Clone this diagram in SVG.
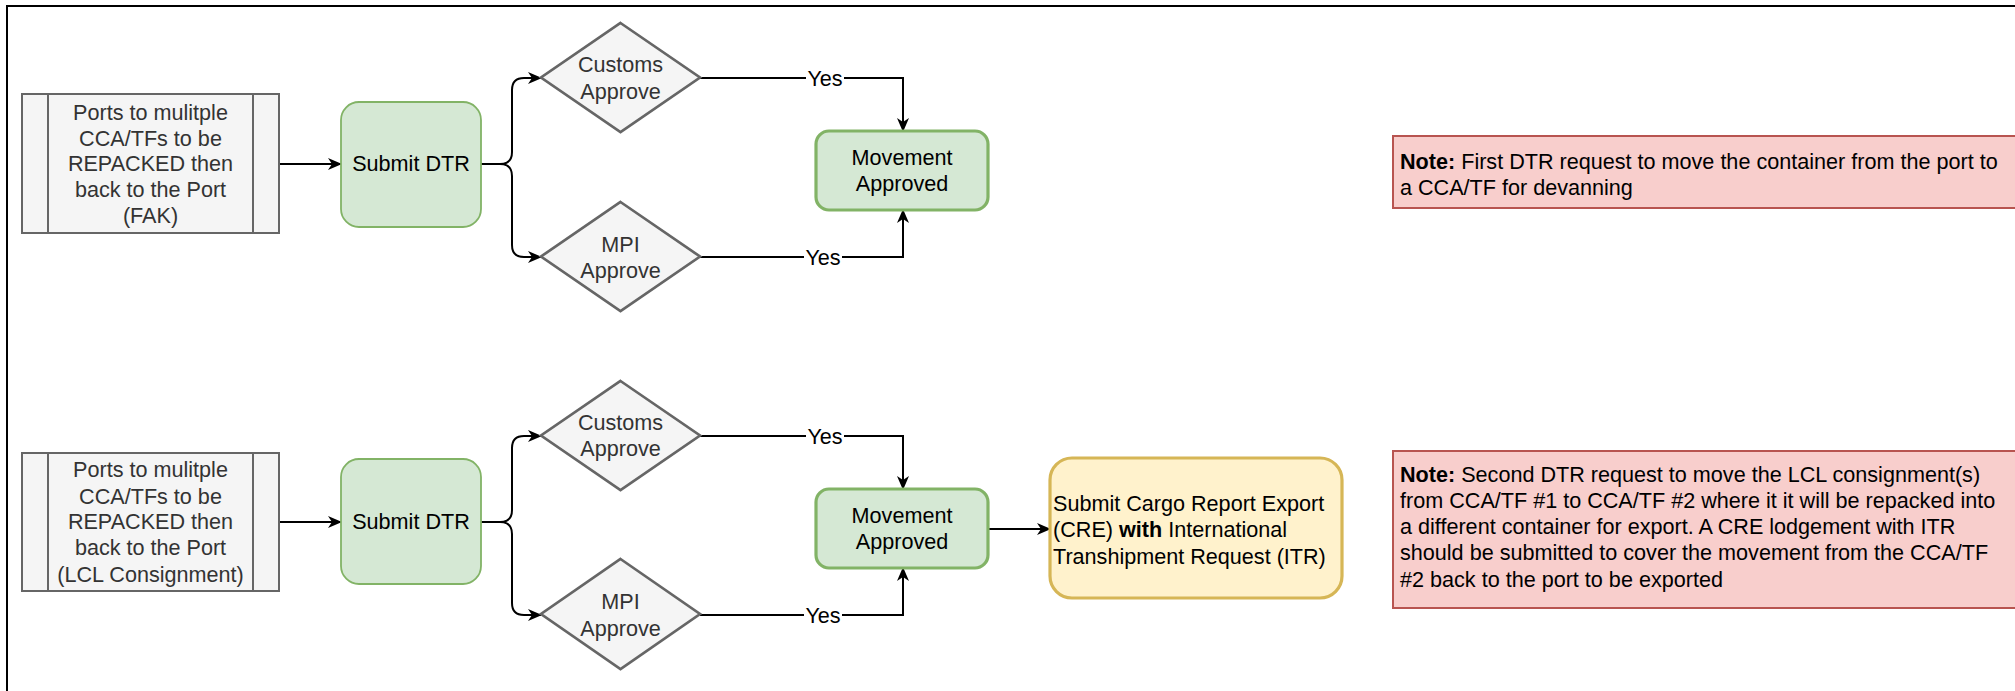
<svg xmlns="http://www.w3.org/2000/svg" width="2015" height="691" viewBox="0 0 2015 691">
<style>
text{font-family:"Liberation Sans",Arial,Helvetica,sans-serif;font-size:21.6px}
.gray{fill:#f5f5f5;stroke:#666666;stroke-width:2}
.dia{fill:#f5f5f5;stroke:#666666;stroke-width:2.7}
.gt{fill:#333333;text-anchor:middle}
.green{fill:#d5e8d4;stroke:#82b366;stroke-width:1.8}
.greenB{fill:#d5e8d4;stroke:#82b366;stroke-width:3.2}
.bt{fill:#000000;text-anchor:middle}
.yellow{fill:#fff2cc;stroke:#d6b656;stroke-width:3.2}
.note{fill:#f8cecc;stroke:#b85450;stroke-width:2}
.lt{fill:#000000}
.edge{fill:none;stroke:#000000;stroke-width:2;marker-end:url(#arr)}
.lbl{fill:#000000;text-anchor:middle}
</style>
<defs>
<marker id="arr" viewBox="0 0 14 12" refX="13" refY="6" markerWidth="14" markerHeight="12" markerUnits="userSpaceOnUse" orient="auto">
<path d="M0,0 L14,6 L0,12 L4,6 Z" fill="#000000"/>
</marker>
</defs>
<rect x="0" y="0" width="2015" height="691" fill="#ffffff"/>
<rect x="7" y="6" width="2040" height="720" fill="none" stroke="#000000" stroke-width="2"/>

<g id="connectors">
<path class="edge" d="M279,164 H341"/>
<path class="edge" d="M481,164 H500 Q512,164 512,152 V90 Q512,78 524,78 H541"/>
<path class="edge" d="M481,164 H500 Q512,164 512,176 V245 Q512,257 524,257 H541"/>
<path class="edge" d="M700,78 H903 V131"/>
<path class="edge" d="M700,257 H903 V210"/>
<path class="edge" d="M279,522 H341"/>
<path class="edge" d="M481,522 H500 Q512,522 512,510 V448 Q512,436 524,436 H541"/>
<path class="edge" d="M481,522 H500 Q512,522 512,534 V603 Q512,615 524,615 H541"/>
<path class="edge" d="M700,436 H903 V489"/>
<path class="edge" d="M700,615 H903 V568"/>
<path class="edge" d="M988,529 H1050"/>
<rect x="806" y="66" width="38" height="24" fill="#ffffff"/>
<text class="lbl" x="825" y="86">Yes</text>
<rect x="804" y="245" width="38" height="24" fill="#ffffff"/>
<text class="lbl" x="823" y="265">Yes</text>
<rect x="806" y="424" width="38" height="24" fill="#ffffff"/>
<text class="lbl" x="825" y="444">Yes</text>
<rect x="804" y="603" width="38" height="24" fill="#ffffff"/>
<text class="lbl" x="823" y="623">Yes</text>
</g>

<g id="process1">
<rect class="gray" x="22" y="94" width="257" height="139"/>
<line x1="48" y1="94" x2="48" y2="233" stroke="#666666" stroke-width="2"/>
<line x1="253" y1="94" x2="253" y2="233" stroke="#666666" stroke-width="2"/>
<text class="gt"><tspan x="150.5" y="120">Ports to mulitple</tspan><tspan x="150.5" y="146">CCA/TFs to be</tspan><tspan x="150.5" y="171">REPACKED then</tspan><tspan x="150.5" y="197">back to the Port</tspan><tspan x="150.5" y="223">(FAK)</tspan></text>
</g>
<g id="submit1">
<rect class="green" x="341" y="102" width="140" height="125" rx="18" ry="18"/>
<text class="bt" x="411" y="171">Submit DTR</text>
</g>
<g id="customs1">
<polygon class="dia" points="620.5,23 700,77.5 620.5,132 541,77.5"/>
<text class="gt"><tspan x="620.5" y="72">Customs</tspan><tspan x="620.5" y="99">Approve</tspan></text>
</g>
<g id="mpi1">
<polygon class="dia" points="620.5,202 700,256.5 620.5,311 541,256.5"/>
<text class="gt"><tspan x="620.5" y="252">MPI</tspan><tspan x="620.5" y="278">Approve</tspan></text>
</g>
<g id="movement1">
<rect class="greenB" x="816" y="131" width="172" height="79" rx="13" ry="13"/>
<text class="bt"><tspan x="902" y="165">Movement</tspan><tspan x="902" y="191">Approved</tspan></text>
</g>
<g id="note1">
<rect class="note" x="1393" y="136" width="640" height="72"/>
<text class="lt"><tspan x="1400" y="169"><tspan font-weight="bold">Note:</tspan> First DTR request to move the container from the port to</tspan><tspan x="1400" y="195">a CCA/TF for devanning</tspan></text>
</g>

<g id="process2">
<rect class="gray" x="22" y="453" width="257" height="138"/>
<line x1="48" y1="453" x2="48" y2="591" stroke="#666666" stroke-width="2"/>
<line x1="253" y1="453" x2="253" y2="591" stroke="#666666" stroke-width="2"/>
<text class="gt"><tspan x="150.5" y="477">Ports to mulitple</tspan><tspan x="150.5" y="504">CCA/TFs to be</tspan><tspan x="150.5" y="529">REPACKED then</tspan><tspan x="150.5" y="555">back to the Port</tspan><tspan x="150.5" y="582">(LCL Consignment)</tspan></text>
</g>
<g id="submit2">
<rect class="green" x="341" y="459" width="140" height="125" rx="18" ry="18"/>
<text class="bt" x="411" y="529">Submit DTR</text>
</g>
<g id="customs2">
<polygon class="dia" points="620.5,381 700,435.5 620.5,490 541,435.5"/>
<text class="gt"><tspan x="620.5" y="430">Customs</tspan><tspan x="620.5" y="456">Approve</tspan></text>
</g>
<g id="mpi2">
<polygon class="dia" points="620.5,559 700,614 620.5,669 541,614"/>
<text class="gt"><tspan x="620.5" y="609">MPI</tspan><tspan x="620.5" y="636">Approve</tspan></text>
</g>
<g id="movement2">
<rect class="greenB" x="816" y="489" width="172" height="79" rx="13" ry="13"/>
<text class="bt"><tspan x="902" y="523">Movement</tspan><tspan x="902" y="549">Approved</tspan></text>
</g>
<g id="cre">
<rect class="yellow" x="1050" y="458" width="292" height="140" rx="22" ry="22"/>
<text class="lt"><tspan x="1053" y="511">Submit Cargo Report Export</tspan><tspan x="1053" y="537">(CRE) <tspan font-weight="bold">with</tspan> International</tspan><tspan x="1053" y="564">Transhipment Request (ITR)</tspan></text>
</g>
<g id="note2">
<rect class="note" x="1393" y="451" width="640" height="157"/>
<text class="lt"><tspan x="1400" y="482"><tspan font-weight="bold">Note:</tspan> Second DTR request to move the LCL consignment(s)</tspan><tspan x="1400" y="508">from CCA/TF #1 to CCA/TF #2 where it it will be repacked into</tspan><tspan x="1400" y="534">a different container for export. A CRE lodgement with ITR</tspan><tspan x="1400" y="560">should be submitted to cover the movement from the CCA/TF</tspan><tspan x="1400" y="587">#2 back to the port to be exported</tspan></text>
</g>
</svg>
